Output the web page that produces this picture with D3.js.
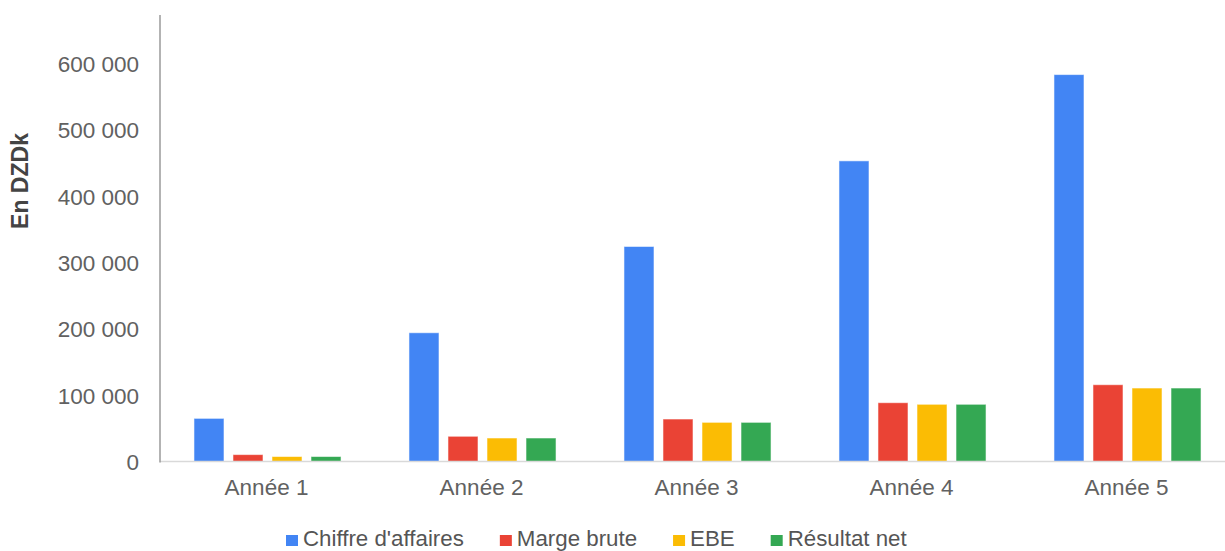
<!DOCTYPE html>
<html>
<head>
<meta charset="utf-8">
<script src="https://cdn.jsdelivr.net/npm/d3@7"></script>
<style>
  html, body { margin: 0; padding: 0; background: #fff; }
  svg { display: block; }
  text { font-family: "Liberation Sans", Arial, sans-serif; }
</style>
</head>
<body>
<svg id="chart" width="1225" height="551"></svg>
<script>
const categories = ["Année 1", "Année 2", "Année 3", "Année 4", "Année 5"];
const seriesNames = ["Chiffre d'affaires", "Marge brute", "EBE", "Résultat net"];
const chiffreAffaires = [65000, 194000, 324000, 453000, 583000];
const margeBrute = [10400, 38000, 64000, 88600, 115700];
const ebe = [7500, 35400, 59000, 86200, 110700];
const resultatNet = [7500, 35400, 59000, 86200, 110700];
const yTicks = [0, 100000, 200000, 300000, 400000, 500000, 600000];
const colors = ["#4285F4", "#EA4335", "#FBBC04", "#34A853"];
const yAxisTitle = "En DZDk";

const seriesValues = [chiffreAffaires, margeBrute, ebe, resultatNet];

const svg = d3.select("#chart");
const W = 1225;
const plotLeft = 160, plotRight = 1235, baseY = 461.5, topY600 = 63.3;

const x0 = d3.scaleBand().domain(categories).range([plotLeft, plotRight]).padding(0);
const x1 = d3.scaleBand().domain(seriesNames).range([0, x0.bandwidth()])
  .paddingInner(9 / 39).paddingOuter(0.871);
const y = d3.scaleLinear().domain([0, 600000]).range([baseY, topY600]);

const fmt = v => d3.format(",")(v).replace(/,/g, " ");

// Y tick labels (no lines)
const yAxis = d3.axisLeft(y).tickValues(yTicks).tickFormat(fmt).tickSize(0).tickPadding(0);
const gy = svg.append("g").attr("transform", `translate(139,0)`).call(yAxis);
gy.select(".domain").remove();
gy.selectAll("text")
  .attr("font-size", 22.5)
  .attr("fill", "#616161")
  .attr("dy", "0.36em")
  .style("font-family", "'Liberation Sans', Arial, sans-serif");

// bars
const groups = svg.append("g").selectAll("g")
  .data(categories)
  .join("g")
  .attr("transform", d => `translate(${x0(d)},0)`);

groups.selectAll("rect")
  .data((d, i) => seriesNames.map((s, j) => ({ s, j, v: seriesValues[j][i] })))
  .join("rect")
  .attr("x", d => x1(d.s))
  .attr("width", x1.bandwidth())
  .attr("y", d => y(d.v))
  .attr("height", d => baseY - y(d.v))
  .attr("fill", d => colors[d.j])
  .attr("stroke", "rgba(255,255,255,0.55)")
  .attr("stroke-width", 1);

// x axis baseline
svg.append("line")
  .attr("x1", plotLeft).attr("x2", W)
  .attr("y1", baseY).attr("y2", baseY)
  .attr("stroke", "#d9d9d9").attr("stroke-width", 1.5);

// y axis line
svg.append("line")
  .attr("x1", 160).attr("x2", 160)
  .attr("y1", 15).attr("y2", baseY + 1)
  .attr("stroke", "#9a9a9a").attr("stroke-width", 1.5);

// X labels
const xAxis = d3.axisBottom(x0).tickSize(0).tickPadding(0);
const gx = svg.append("g").attr("transform", `translate(-1,495)`).call(xAxis);
gx.select(".domain").remove();
gx.selectAll("text")
  .attr("font-size", 22.5)
  .attr("fill", "#616161")
  .attr("dy", 0)
  .attr("y", 0)
  .style("font-family", "'Liberation Sans', Arial, sans-serif");

// Y axis title
svg.append("text")
  .attr("transform", `translate(28,181) rotate(-90)`)
  .attr("text-anchor", "middle")
  .attr("font-size", 23)
  .attr("font-weight", "bold")
  .attr("fill", "#444")
  .text(yAxisTitle);

// Legend
const legend = svg.append("g");
let lx = 286;
seriesNames.forEach((name, j) => {
  legend.append("rect")
    .attr("x", lx).attr("y", 535)
    .attr("width", 12).attr("height", 11)
    .attr("fill", colors[j]);
  const t = legend.append("text")
    .attr("x", lx + 17).attr("y", 546)
    .attr("font-size", 22.3)
    .attr("fill", "#555")
    .text(name);
  const w = t.node().getComputedTextLength();
  lx = lx + 17 + w + 36;
});
</script>
</body>
</html>
